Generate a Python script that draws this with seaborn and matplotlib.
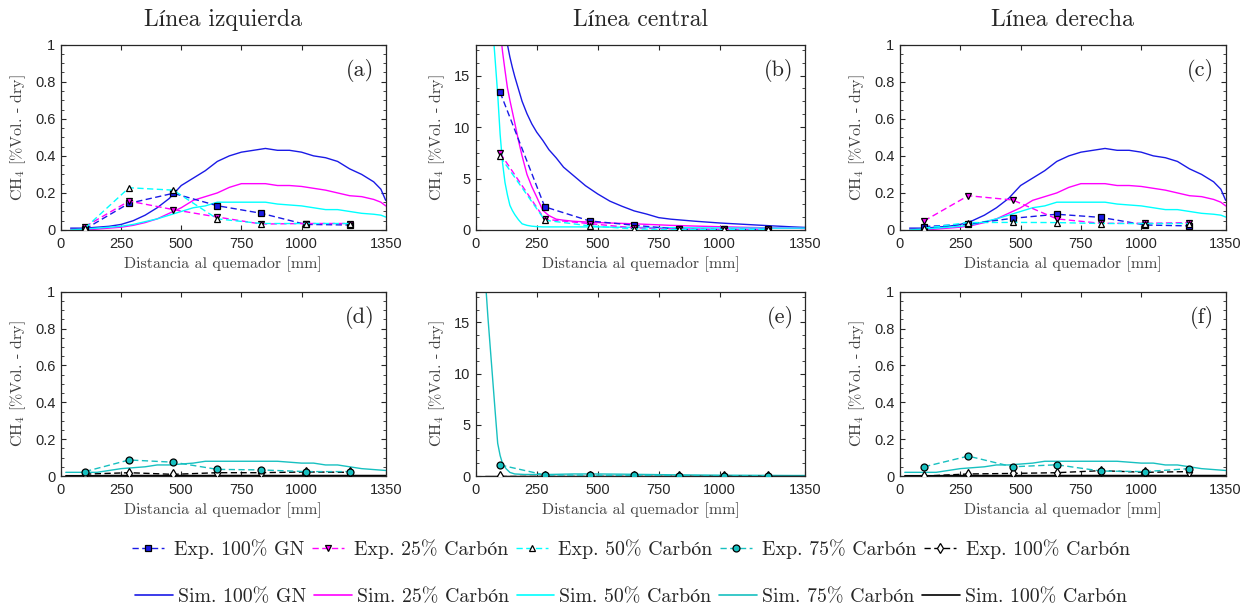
import matplotlib
matplotlib.use("Agg")
import matplotlib.pyplot as plt
from matplotlib.lines import Line2D
from matplotlib.ticker import AutoMinorLocator, FuncFormatter, FixedLocator
import seaborn as sns

# ---------------- data ----------------
# Measurement ports along the furnace [mm]
exp_x = [100, 283, 467, 650, 833, 1017, 1200]

# Experimental CH4 [%Vol. - dry], top row (100% GN, 25% and 50% carbón)
exp_left_gn = [0.005, 0.144, 0.198, 0.131, 0.090, 0.030, 0.027]
exp_left_c25 = [0.018, 0.156, 0.110, 0.070, 0.032, 0.035, 0.035]
exp_left_c50 = [0.010, 0.228, 0.215, 0.060, 0.035, 0.035, 0.035]

exp_center_gn = [13.37, 2.25, 0.88, 0.46, 0.07, 0.05, 0.05]
exp_center_c25 = [7.47, 1.04, 0.62, 0.20, 0.10, 0.05, 0.05]
exp_center_c50 = [7.14, 0.95, 0.40, 0.10, 0.05, 0.05, 0.05]

exp_right_gn = [0.018, 0.032, 0.063, 0.085, 0.068, 0.027, 0.022]
exp_right_c25 = [0.049, 0.185, 0.162, 0.060, 0.036, 0.036, 0.040]
exp_right_c50 = [0.010, 0.040, 0.041, 0.040, 0.035, 0.035, 0.035]

# Experimental CH4, bottom row (75% and 100% carbón)
exp_left_c75 = [0.024, 0.087, 0.075, 0.036, 0.033, 0.024, 0.024]
exp_left_c100 = [0.010, 0.018, 0.009, 0.018, 0.018, 0.022, 0.020]

exp_center_c75 = [1.08, 0.10, 0.08, 0.06, 0.04, 0.03, 0.03]
exp_center_c100 = [0.01, 0.01, 0.01, 0.01, 0.01, 0.01, 0.01]

exp_right_c75 = [0.050, 0.108, 0.050, 0.061, 0.027, 0.024, 0.040]
exp_right_c100 = [0.000, 0.011, 0.014, 0.018, 0.029, 0.020, 0.024]

# Simulated profiles on the lateral lines [mm]
sim_x_side = [40, 100, 150, 200, 250, 300, 350, 400, 450, 500, 550, 600, 650,
              700, 750, 800, 850, 900, 950, 1000, 1050, 1100, 1150, 1200,
              1250, 1300, 1330, 1350]
sim_side_gn = [0.01, 0.01, 0.015, 0.02, 0.03, 0.05, 0.08, 0.12, 0.17, 0.24,
               0.28, 0.32, 0.37, 0.40, 0.42, 0.43, 0.44, 0.43, 0.43, 0.42,
               0.40, 0.39, 0.37, 0.33, 0.30, 0.26, 0.22, 0.16]
sim_side_c25 = [0.0, 0.0, 0.005, 0.01, 0.015, 0.025, 0.04, 0.06, 0.09, 0.12,
                0.16, 0.18, 0.20, 0.23, 0.25, 0.25, 0.25, 0.24, 0.24, 0.235,
                0.225, 0.215, 0.20, 0.185, 0.18, 0.165, 0.15, 0.13]
sim_side_c50 = [0.0, 0.005, 0.01, 0.015, 0.02, 0.03, 0.045, 0.06, 0.08, 0.10,
                0.12, 0.13, 0.15, 0.15, 0.15, 0.15, 0.15, 0.14, 0.135, 0.13,
                0.12, 0.11, 0.11, 0.10, 0.09, 0.085, 0.08, 0.07]

sim_x_side_low = [20, 100, 150, 200, 250, 300, 350, 400, 450, 500, 550, 600,
                  650, 700, 750, 800, 850, 900, 950, 1000, 1050, 1100, 1150,
                  1200, 1250, 1300, 1350]
sim_side_c75 = [0.02, 0.02, 0.02, 0.03, 0.04, 0.045, 0.05, 0.06, 0.06, 0.065,
                0.07, 0.08, 0.08, 0.08, 0.08, 0.08, 0.08, 0.08, 0.075, 0.07,
                0.07, 0.06, 0.06, 0.05, 0.04, 0.035, 0.03]
sim_side_c100 = [0.002, 0.002, 0.002, 0.003, 0.003, 0.003, 0.003, 0.003,
                 0.003, 0.003, 0.003, 0.003, 0.003, 0.003, 0.003, 0.003,
                 0.003, 0.003, 0.003, 0.003, 0.003, 0.003, 0.003, 0.003,
                 0.003, 0.003, 0.003]

# Simulated profiles on the central line [mm]
sim_x_center = [40, 60, 75, 90, 100, 110, 120, 130, 140, 150, 160, 175, 190,
                210, 230, 250, 275, 300, 330, 360, 400, 450, 500, 550, 600,
                650, 700, 750, 800, 900, 1000, 1100, 1200, 1300, 1350]
sim_center_gn = [40, 35, 31, 27, 24, 21.8, 19.8, 18, 16.8, 15.8, 14.9, 13.7,
                 12.5, 11.3, 10.3, 9.5, 8.7, 7.8, 7.0, 6.1, 5.3, 4.3, 3.5,
                 2.8, 2.3, 1.85, 1.55, 1.2, 1.05, 0.85, 0.68, 0.55, 0.42,
                 0.3, 0.25]
sim_center_c25 = [40, 32, 27, 22, 19.5, 17.3, 15.5, 13.8, 12.6, 11.5, 10.4,
                  8.7, 7.2, 5.4, 4.2, 3.2, 1.9, 1.4, 1.05, 0.95, 0.85, 0.78,
                  0.72, 0.68, 0.64, 0.6, 0.55, 0.5, 0.45, 0.38, 0.32, 0.26,
                  0.21, 0.17, 0.15]
sim_center_c50 = [30, 24, 18, 13.2, 9.3, 6.5, 4.6, 3.4, 2.4, 1.9, 1.5, 1.0,
                  0.6, 0.45, 0.37, 0.33, 0.3, 0.3, 0.3, 0.3, 0.3, 0.3, 0.3,
                  0.28, 0.27, 0.26, 0.25, 0.24, 0.23, 0.21, 0.2, 0.19, 0.18,
                  0.18, 0.18]

sim_x_center_low = [40, 50, 60, 70, 80, 90, 100, 110, 125, 140, 160, 200,
                    300, 400, 500, 600, 700, 800, 900, 1000, 1100, 1200,
                    1300, 1350]
sim_center_c75 = [19.0, 15.5, 12.4, 9.3, 6.2, 3.2, 2.0, 1.2, 0.7, 0.35, 0.2,
                  0.15, 0.15, 0.2, 0.2, 0.18, 0.15, 0.12, 0.1, 0.08, 0.07,
                  0.06, 0.05, 0.05]
sim_center_c100 = [0.02] * 24

# ---------------- styles ----------------
C_GN = "#1a1ae6"
C_25 = "#ff00ff"
C_50 = "#00ffff"
C_75 = "#17c0c0"
C_100 = "#000000"
SERIF = ["cmr10", "STIXGeneral", "DejaVu Serif"]
DASH = (0, (4.5, 2.5))
MS = 5.0

exp_styles = {
    "gn": dict(color=C_GN, marker="s", markerfacecolor=C_GN),
    "c25": dict(color=C_25, marker="v", markerfacecolor=C_25),
    "c50": dict(color=C_50, marker="^", markerfacecolor="white"),
    "c75": dict(color=C_75, marker="o", markerfacecolor=C_75),
    "c100": dict(color=C_100, marker="d", markerfacecolor="white"),
}

sns.set_style("ticks")
plt.rcParams["font.family"] = ["Liberation Sans", "DejaVu Sans"]
plt.rcParams["mathtext.fontset"] = "cm"
plt.rcParams["axes.edgecolor"] = "#262626"
plt.rcParams["xtick.color"] = "#262626"
plt.rcParams["ytick.color"] = "#262626"

fig = plt.figure(figsize=(12.47, 6.07), dpi=100)

lefts = [0.0489, 0.3815, 0.7217]
widths = [0.2604, 0.2641, 0.2612]
row_bottoms = [0.6211, 0.2158]
row_heights = [0.3053, 0.3036]


def draw_sim(ax, x, y, color):
    sns.lineplot(x=x, y=y, ax=ax, color=color, linewidth=1.0,
                 errorbar=None, sort=False, zorder=2)


def draw_exp(ax, y, key):
    st = exp_styles[key]
    sns.lineplot(x=exp_x, y=y, ax=ax, color=st["color"], linewidth=1.0,
                 linestyle=DASH, marker=st["marker"], markersize=MS,
                 markerfacecolor=st["markerfacecolor"],
                 markeredgecolor="black", markeredgewidth=0.9,
                 errorbar=None, sort=False, zorder=3)


def style_axis(ax, ymax, ymajor, letter):
    ax.set_xlim(0, 1350)
    ax.set_ylim(0, ymax)
    ax.xaxis.set_major_locator(FixedLocator([0, 250, 500, 750, 1000, 1350]))
    ax.yaxis.set_major_locator(FixedLocator(ymajor))
    ax.yaxis.set_minor_locator(AutoMinorLocator(4))
    ax.yaxis.set_major_formatter(FuncFormatter(lambda v, p: f"{v:g}"))
    ax.tick_params(which="both", direction="in", top=True, right=True,
                   labelsize=10.5)
    ax.tick_params(axis="x", pad=5)
    ax.tick_params(axis="y", pad=4)
    ax.tick_params(which="major", length=3.5, width=0.8)
    ax.tick_params(which="minor", length=2, width=0.6)
    for s in ax.spines.values():
        s.set_linewidth(0.9)
    ax.set_xlabel("Distancia al quemador [mm]", family=SERIF, fontsize=11.5,
                  color="#404040", labelpad=4)
    ax.set_ylabel(r"CH$_4$ [%Vol. - dry]", family=SERIF, fontsize=11.5,
                  color="#404040", labelpad=5)
    ax.text(0.965, 0.86, letter, transform=ax.transAxes, ha="right",
            va="center", family=SERIF, fontsize=16)


frac_ticks = [0, 0.2, 0.4, 0.6, 0.8, 1]
big_ticks = [0, 5, 10, 15]

axes = {}
for r in range(2):
    for c in range(3):
        axes[(r, c)] = fig.add_axes([lefts[c], row_bottoms[r], widths[c],
                                     row_heights[r]])

# (a) left line
ax = axes[(0, 0)]
draw_sim(ax, sim_x_side, sim_side_gn, C_GN)
draw_sim(ax, sim_x_side, sim_side_c25, C_25)
draw_sim(ax, sim_x_side, sim_side_c50, C_50)
draw_exp(ax, exp_left_gn, "gn")
draw_exp(ax, exp_left_c25, "c25")
draw_exp(ax, exp_left_c50, "c50")
style_axis(ax, 1, frac_ticks, "(a)")

# (b) central line
ax = axes[(0, 1)]
draw_sim(ax, sim_x_center, sim_center_gn, C_GN)
draw_sim(ax, sim_x_center, sim_center_c25, C_25)
draw_sim(ax, sim_x_center, sim_center_c50, C_50)
draw_exp(ax, exp_center_gn, "gn")
draw_exp(ax, exp_center_c25, "c25")
draw_exp(ax, exp_center_c50, "c50")
style_axis(ax, 18, big_ticks, "(b)")

# (c) right line
ax = axes[(0, 2)]
draw_sim(ax, sim_x_side, sim_side_gn, C_GN)
draw_sim(ax, sim_x_side, sim_side_c25, C_25)
draw_sim(ax, sim_x_side, sim_side_c50, C_50)
draw_exp(ax, exp_right_gn, "gn")
draw_exp(ax, exp_right_c25, "c25")
draw_exp(ax, exp_right_c50, "c50")
style_axis(ax, 1, frac_ticks, "(c)")

# (d) left line, high carbón shares
ax = axes[(1, 0)]
draw_sim(ax, sim_x_side_low, sim_side_c75, C_75)
draw_sim(ax, sim_x_side_low, sim_side_c100, C_100)
draw_exp(ax, exp_left_c100, "c100")
draw_exp(ax, exp_left_c75, "c75")
style_axis(ax, 1, frac_ticks, "(d)")

# (e) central line, high carbón shares
ax = axes[(1, 1)]
draw_sim(ax, sim_x_center_low, sim_center_c75, C_75)
draw_sim(ax, sim_x_center_low, sim_center_c100, C_100)
draw_exp(ax, exp_center_c100, "c100")
draw_exp(ax, exp_center_c75, "c75")
style_axis(ax, 18, big_ticks, "(e)")

# (f) right line, high carbón shares
ax = axes[(1, 2)]
draw_sim(ax, sim_x_side_low, sim_side_c75, C_75)
draw_sim(ax, sim_x_side_low, sim_side_c100, C_100)
draw_exp(ax, exp_right_c100, "c100")
draw_exp(ax, exp_right_c75, "c75")
style_axis(ax, 1, frac_ticks, "(f)")

# column titles
titles = ["Línea izquierda", "Línea central", "Línea derecha"]
for c, t in enumerate(titles):
    fig.text(lefts[c] + widths[c] / 2, 1 - 20 / 607, t, ha="center",
             va="center", family=SERIF, fontsize=17)

# legends
exp_labels = ["Exp. 100% GN", "Exp. 25% Carbón", "Exp. 50% Carbón",
              "Exp. 75% Carbón", "Exp. 100% Carbón"]
sim_labels = ["Sim. 100% GN", "Sim. 25% Carbón", "Sim. 50% Carbón",
              "Sim. 75% Carbón", "Sim. 100% Carbón"]
keys = ["gn", "c25", "c50", "c75", "c100"]
sim_colors = [C_GN, C_25, C_50, C_75, C_100]

exp_handles = [Line2D([], [], color=exp_styles[k]["color"], linestyle=DASH,
                      linewidth=1.0, marker=exp_styles[k]["marker"],
                      markersize=MS,
                      markerfacecolor=exp_styles[k]["markerfacecolor"],
                      markeredgecolor="black", markeredgewidth=0.9)
               for k in keys]
sim_handles = [Line2D([], [], color=col, linewidth=1.2) for col in sim_colors]

fig.legend(exp_handles, exp_labels, loc="center",
           bbox_to_anchor=(0.506, 1 - 549 / 607), ncol=5, frameon=False,
           prop=dict(family=SERIF, size=14.3), handlelength=1.6,
           handletextpad=0.5, columnspacing=0.4)
fig.legend(sim_handles, sim_labels, loc="center",
           bbox_to_anchor=(0.506, 1 - 597 / 607), ncol=5, frameon=False,
           prop=dict(family=SERIF, size=14.3), handlelength=1.9,
           handletextpad=0.25, columnspacing=0.4)

fig.savefig("out.png", dpi=100)
